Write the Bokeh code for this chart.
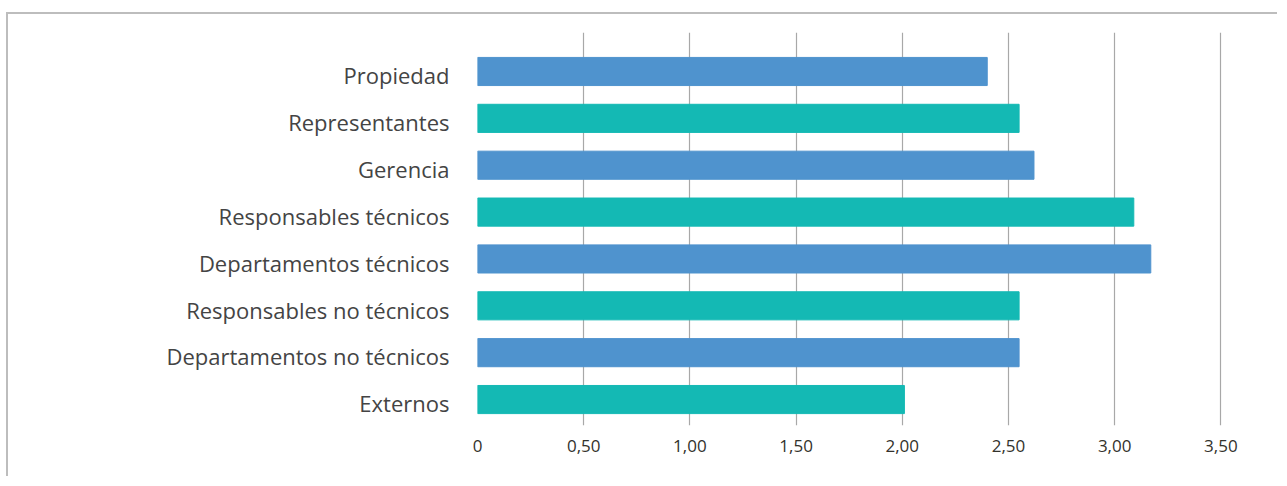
from bokeh.plotting import figure
from bokeh.models import Range1d, FixedTicker, ColumnDataSource
from bokeh.embed import file_html
from bokeh.resources import INLINE

categories = ["Propiedad", "Representantes", "Gerencia", "Responsables técnicos",
              "Departamentos técnicos", "Responsables no técnicos",
              "Departamentos no técnicos", "Externos"]
values = [2.40, 2.55, 2.62, 3.09, 3.17, 2.55, 2.55, 2.01]
x_ticks = [0, 0.5, 1.0, 1.5, 2.0, 2.5, 3.0, 3.5]
x_tick_labels = ["0", "0,50", "1,00", "1,50", "2,00", "2,50", "3,00", "3,50"]

BLUE = "#4F93CE"
TEAL = "#14B9B4"
colors = [BLUE if i % 2 == 0 else TEAL for i in range(len(categories))]
positions = list(range(len(categories)))
LABEL_SHIFT = 0.08  # labels sit slightly below bar centres in the reference
label_ticks = [i + LABEL_SHIFT for i in positions]

src = ColumnDataSource(dict(y=positions, v=values, c=colors))

p = figure(width=1271, height=464, output_backend="svg", toolbar_location=None,
           x_range=Range1d(0, 3.776), y_range=Range1d(7.554, -0.832),
           min_border_left=469, min_border_right=0, min_border_top=18,
           min_border_bottom=53)
p.styles = {"margin-top": "12px", "margin-left": "6px",
            "border-top": "2px solid #BDBDBD",
            "border-left": "2px solid #BDBDBD"}
p.outline_line_color = None

p.hbar(y="y", right="v", left=0, height=0.6, color="c", source=src)

# x axis
p.xaxis.ticker = FixedTicker(ticks=x_ticks)
p.xaxis.major_label_overrides = {t: l for t, l in zip(x_ticks, x_tick_labels)}
p.xaxis.axis_line_color = None
p.xaxis.major_tick_line_color = None
p.xaxis.minor_tick_line_color = None
p.xaxis.major_label_text_align = "left"
p.xaxis.major_label_standoff = 8
p.xaxis.major_label_text_font = "Open Sans"
p.xaxis.major_label_text_font_size = "17px"
p.xaxis.major_label_text_color = "#33322c"

# y axis
p.yaxis.ticker = FixedTicker(ticks=label_ticks)
p.yaxis.major_label_overrides = {t: c for t, c in zip(label_ticks, categories)}
p.yaxis.axis_line_color = None
p.yaxis.major_tick_line_color = None
p.yaxis.minor_tick_line_color = None
p.yaxis.major_label_standoff = 22
p.yaxis.major_label_text_font = "Open Sans"
p.yaxis.major_label_text_font_size = "22px"
p.yaxis.major_label_text_color = "#444444"

p.xgrid.ticker = FixedTicker(ticks=x_ticks)
p.xgrid.grid_line_color = "#A8A8A8"
p.xgrid.grid_line_width = 1.2
p.ygrid.grid_line_color = None

open("out.html", "w").write(file_html(p, INLINE))
